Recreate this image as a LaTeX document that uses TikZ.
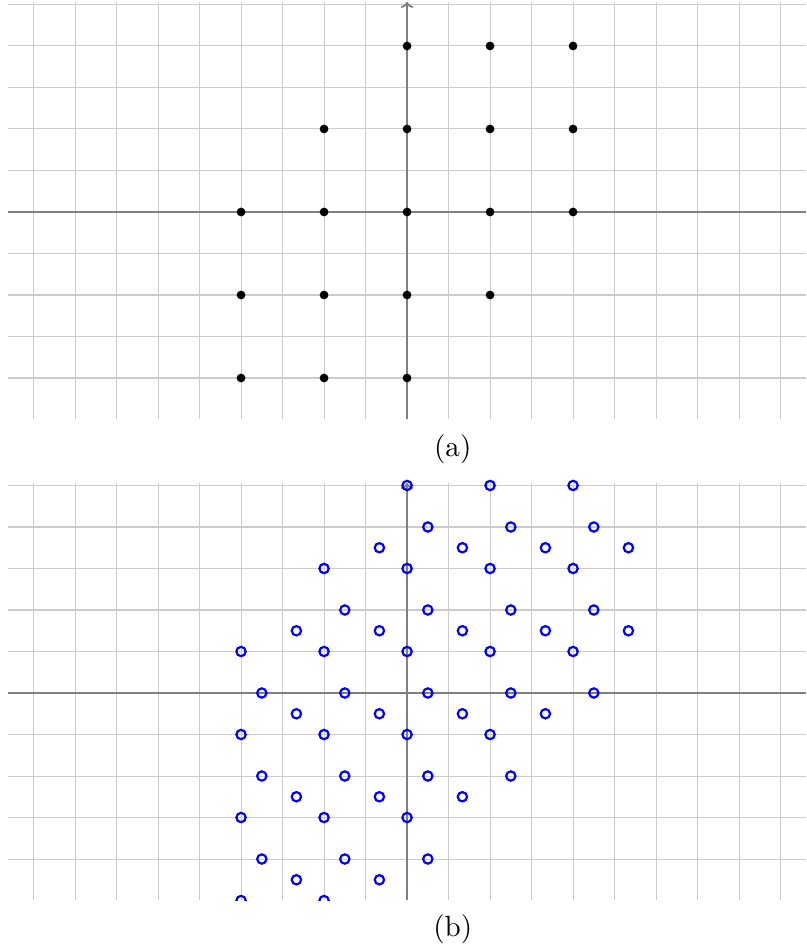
\documentclass[tikz,border=0pt]{standalone}
\usepackage{tikz}
\usetikzlibrary{arrows.meta}

\tikzset{
    gridline/.style={gray!40, line width=0.35pt},
    axisline/.style={gray, line width=0.6pt},
    latpt/.style={black},
    ringpt/.style={blue, line width=0.75pt}
}

\begin{document}
\begin{tikzpicture}[>={To[scale=0.7]}]
    \useasboundingbox (-4.904,-8.855) rectangle (4.807,2.554);
    % (a) hexagonal patch of lattice points
    \begin{scope}
        \clip (-4.81,-2.5) rectangle (4.81,2.6);
        \draw[gridline, step=0.5] (-4.81,-2.49) grid (4.81,2.53);
        \draw[axisline] (-4.81,0) -- (4.81,0);
        \draw[axisline, ->] (0,-2.49) -- (0,2.53);
        \foreach \i in {-2,...,2}
            \foreach \j in {-3,...,3} {
                \pgfmathtruncatemacro\d{abs(\i-\j)}
                \ifnum\d<3 \fill[latpt] (\i,\j) circle (1.5pt); \fi
            }
    \end{scope}
    \node (capa) at (0.55,-2.86) {(a)};
    % (b) three shifted copies
    \begin{scope}[yshift=-5.795cm]
        \clip (-4.81,-2.5) rectangle (4.81,2.6);
        \draw[gridline, step=0.5] (-4.81,-2.49) grid (4.81,2.53);
        \draw[axisline] (-4.81,0) -- (4.81,0);
        \draw[axisline, ->] (0,-2.49) -- (0,2.53);
        \foreach \dx/\dy in {0/0.5, 0.25/0, 0.6667/0.75}
            \foreach \i in {-2,...,2}
                \foreach \j in {-3,...,3} {
                    \pgfmathtruncatemacro\d{abs(\i-\j)}
                    \ifnum\d<3 \draw[ringpt] (\i+\dx,\j+\dy) circle (1.6pt); \fi
                }
    \end{scope}
    \node (capb) at (0.55,-8.645) {(b)};
\end{tikzpicture}
\end{document}
